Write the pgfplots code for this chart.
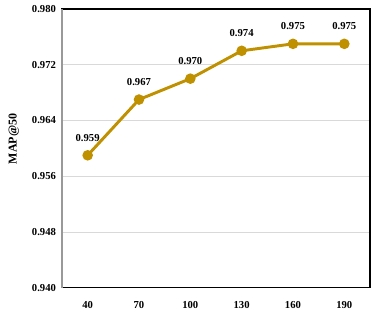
\documentclass[border=0pt]{standalone}
\usepackage{pgfplots}
\pgfplotsset{compat=1.18}
\usepackage{fontspec}
\setmainfont{Liberation Serif}
\usetikzlibrary{calc}

\definecolor{gold}{RGB}{191,144,0}
\definecolor{gridgray}{RGB}{217,217,217}

\begin{document}
\begin{tikzpicture}
\begin{axis}[
    scale only axis,
    width=231pt, height=209pt,
    xmin=-0.5, xmax=5.5,
    ymin=0.940, ymax=0.980,
    xtick={0,1,2,3,4,5},
    xticklabels={40,70,100,130,160,190},
    ytick={0.940,0.948,0.956,0.964,0.972,0.980},
    yticklabel style={/pgf/number format/fixed, /pgf/number format/fixed zerofill,
        /pgf/number format/precision=3, xshift=-1pt},
    /pgf/number format/assume math mode=true,
    ticklabel style={font=\bfseries\fontsize{8}{9}\selectfont},
    xticklabel style={yshift=-7pt},
    major tick length=0pt,
    ymajorgrids,
    grid style={gridgray, line width=0.6pt},
    axis line style={black, line width=0.8pt},
    ylabel={\bfseries MAP@50},
    ylabel style={font=\fontsize{9}{10}\selectfont, yshift=3pt, xshift=7pt},
    nodes near coords,
    every node near coord/.append style={
        font=\bfseries\fontsize{8}{9}\selectfont, black, yshift=6pt,
        /pgf/number format/fixed, /pgf/number format/fixed zerofill,
        /pgf/number format/precision=3},
    clip=false,
]
\addplot[gold, line width=2.2pt, mark=*, mark size=2.8pt,
    mark options={fill=gold, draw=gold}] coordinates {
    (0,0.959) (1,0.967) (2,0.970) (3,0.974) (4,0.975) (5,0.975)
};
\draw[gray!80, line width=0.9pt] (rel axis cs:0,0) -- (rel axis cs:0,1);
\end{axis}
\useasboundingbox ($(current axis.south west)+(-46.5pt,-27pt)$) rectangle ($(current axis.north east)+(9pt,6.75pt)$);
\end{tikzpicture}
\end{document}
